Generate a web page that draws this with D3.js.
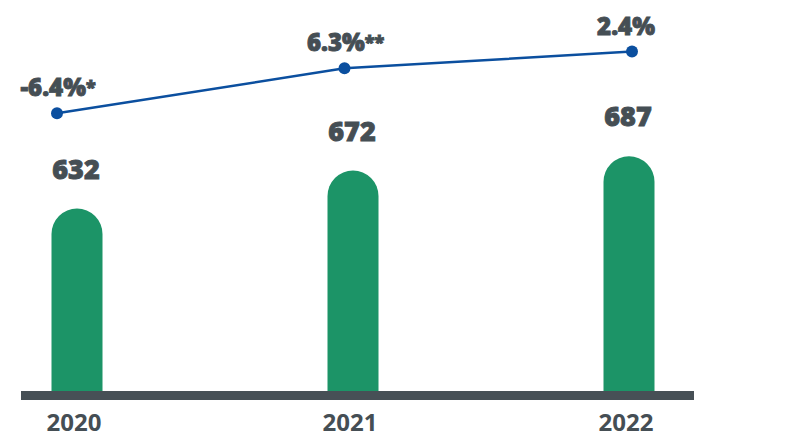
<!DOCTYPE html>
<html>
<head>
<meta charset="utf-8">
<script src="https://cdn.jsdelivr.net/npm/d3@7"></script>
<style>
  html, body { margin: 0; padding: 0; background: #ffffff; }
  svg { display: block; }
  text { font-family: "Open Sans", "DejaVu Sans", sans-serif; fill: #454e54; }
  .heavy { stroke: #454e54; stroke-width: 0.9; paint-order: stroke; }
</style>
</head>
<body>
<div id="chart"></div>
<script>
// ---- data ----
const years = ["2020", "2021", "2022"];
const values = [632, 672, 687];
const growthLabels = ["-6.4%", "6.3%", "2.4%"];
const growthNotes = ["*", "**", ""];

// ---- layout ----
const W = 786, H = 438;
const baseY = 391;
const svg = d3.select("#chart").append("svg").attr("width", W).attr("height", H);

const x = d3.scalePoint().domain(years).range([77, 629]);
const xLine = d3.scalePoint().domain(years).range([57, 632]);
const barW = 51;
const yBar = d3.scaleLinear().domain([440, 700]).range([baseY, baseY - 0.95 * 260]);
const yLine = d3.scaleLinear().domain([600, 700]).range([149, 37]);

const data = years.map((y, i) => ({ year: y, value: values[i], g: growthLabels[i], note: growthNotes[i] }));

// bars with rounded top
const r = barW / 2;
svg.append("g").selectAll("path").data(data).join("path")
  .attr("fill", "#1c9467")
  .attr("d", d => {
    const cx = x(d.year), top = yBar(d.value);
    const p = d3.path();
    p.moveTo(cx - r, baseY);
    p.lineTo(cx - r, top + r);
    p.arc(cx, top + r, r, Math.PI, 0);
    p.lineTo(cx + r, baseY);
    p.closePath();
    return p.toString();
  });

// axis bar
svg.append("rect").attr("x", 21).attr("y", baseY).attr("width", 673).attr("height", 9).attr("fill", "#475056");

// year labels
svg.append("g").selectAll("text").data(data).join("text")
  .attr("x", d => x(d.year) - 3)
  .attr("y", 431)
  .attr("text-anchor", "middle")
  .attr("font-size", 24)
  .attr("font-weight", 700)
  .text(d => d.year);

// value labels
svg.append("g").selectAll("text").data(data).join("text")
  .attr("class", "heavy")
  .attr("x", d => x(d.year) - 1)
  .attr("y", d => yBar(d.value) - 30)
  .attr("text-anchor", "middle")
  .attr("font-size", 27)
  .attr("font-weight", 800)
  .text(d => d.value);

// growth line
svg.append("path").datum(data)
  .attr("fill", "none")
  .attr("stroke", "#0b4f9f")
  .attr("stroke-width", 2.5)
  .attr("d", d3.line().x(d => xLine(d.year)).y(d => yLine(d.value)));

svg.append("g").selectAll("circle").data(data).join("circle")
  .attr("cx", d => xLine(d.year))
  .attr("cy", d => yLine(d.value))
  .attr("r", 6)
  .attr("fill", "#0b4f9f");

// growth labels
const gl = svg.append("g").selectAll("text").data(data).join("text")
  .attr("class", "heavy")
  .attr("x", d => xLine(d.year) + (d.note ? 1 : -6))
  .attr("y", d => yLine(d.value) - 17)
  .attr("text-anchor", "middle")
  .attr("font-size", 24)
  .attr("font-weight", 800);
gl.append("tspan").text(d => d.g);
gl.append("tspan").attr("font-size", 18).attr("dy", -3).text(d => d.note);
</script>
</body>
</html>
